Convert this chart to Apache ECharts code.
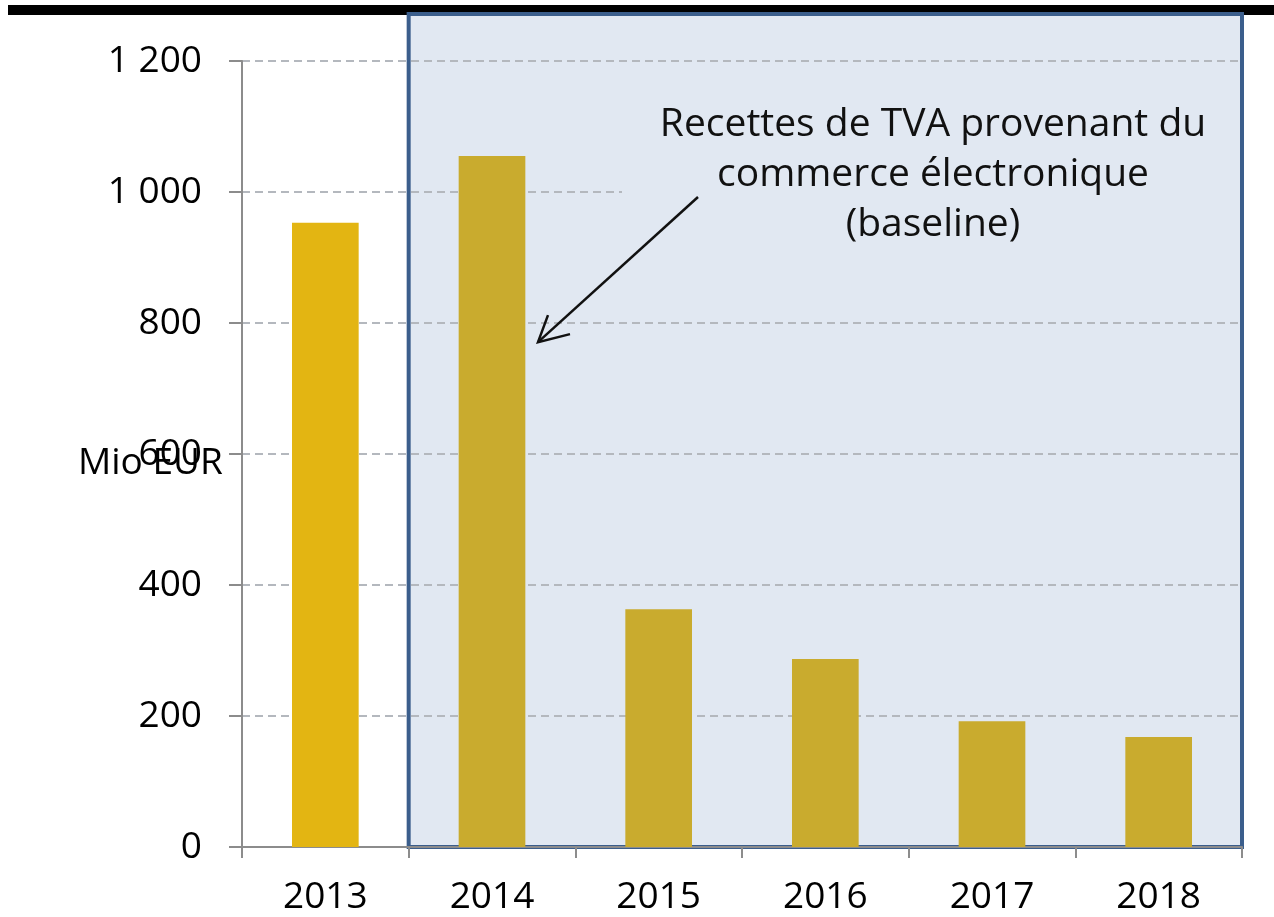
<!DOCTYPE html>
<html>
<head>
<meta charset="utf-8">
<script src="https://cdn.jsdelivr.net/npm/echarts@6/dist/echarts.min.js"></script>
<style>
  html, body { margin: 0; padding: 0; background: #fff; }
  #chartsDiv { width: 1274px; height: 917px; }
</style>
</head>
<body>
<div id="chartsDiv"></div>
<script>
// années
const years = ["2013", "2014", "2015", "2016", "2017", "2018"];
// recettes de TVA, Mio EUR
const values = [953, 1055, 363, 287, 192, 168];
const yTicks = [0, 200, 400, 600, 800, 1000, 1200];

const font = "'Open Sans', 'Noto Sans', sans-serif";
const boxFill = "#e1e8f2";

const chart = echarts.init(document.getElementById("chartsDiv"));

const option = {
  animation: false,
  grid: { left: 242, right: 32, top: 61, bottom: 70 },
  xAxis: {
    type: "category",
    data: years,
    axisLine: { lineStyle: { color: "#8c8c8c", width: 2 } },
    axisTick: { show: true, length: 11, lineStyle: { color: "#8c8c8c", width: 2 } },
    axisLabel: { color: "#000", fontSize: 37, fontFamily: font, margin: 32 },
  },
  yAxis: {
    type: "value",
    min: yTicks[0],
    max: yTicks[yTicks.length - 1],
    interval: 200,
    axisLine: { show: true, lineStyle: { color: "#8c8c8c", width: 2 } },
    axisTick: { show: true, length: 13, lineStyle: { color: "#8c8c8c", width: 2 } },
    axisLabel: {
      color: "#000",
      fontSize: 37,
      fontFamily: font,
      margin: 40,
      formatter: (v) => String(v).replace(/\B(?=(\d{3})+(?!\d))/g, " "),
    },
    splitLine: { lineStyle: { color: "#b4b8be", type: [8, 5], width: 2 } },
  },
  series: [
    {
      type: "bar",
      barWidth: "40%",
      data: values.map((v, i) => ({
        value: v,
        itemStyle: { color: i === 0 ? "#e3b512" : "#c9ab2e" },
      })),
      z: 2,
    },
  ],
};
chart.setOption(option);

// cadre bleu 2014-2018 + annotation, positionnés via les axes
const xLeft = (chart.convertToPixel({ xAxisIndex: 0 }, years[0]) + chart.convertToPixel({ xAxisIndex: 0 }, years[1])) / 2;
const xRight = chart.convertToPixel({ xAxisIndex: 0 }, years[5]) + (xLeft - chart.convertToPixel({ xAxisIndex: 0 }, years[0]));
const yBase = chart.convertToPixel({ yAxisIndex: 0 }, 0);
const p1000 = chart.convertToPixel({ yAxisIndex: 0 }, 1000);
const pArrow = chart.convertToPixel({ xAxisIndex: 0, yAxisIndex: 0 }, [years[1], 780]);

chart.setOption({
  graphic: [
    {
      type: "rect",
      z: -1,
      shape: { x: 8, y: 5, width: 1266, height: 10 },
      style: { fill: "#000" },
    },
    {
      type: "rect",
      z: -1,
      shape: { x: xLeft, y: 14, width: xRight - xLeft, height: yBase - 14 },
      style: { fill: boxFill, stroke: "#3b5e8c", lineWidth: 4 },
    },
    {
      type: "rect",
      z: 1,
      shape: { x: 622, y: p1000 - 90, width: xRight - 624, height: 150 },
      style: { fill: boxFill },
    },
    {
      type: "text",
      z: 3,
      x: 933,
      y: 100,
      style: {
        text: "Recettes de TVA provenant du\ncommerce électronique\n(baseline)",
        fill: "#111",
        font: "39px " + font,
        align: "center",
        lineHeight: 50,
      },
    },
    {
      type: "line",
      z: 3,
      shape: { x1: 698, y1: 197, x2: pArrow[0] + 46, y2: pArrow[1] + 6 },
      style: { stroke: "#111", lineWidth: 2.5 },
    },
    {
      type: "polyline",
      z: 3,
      shape: { points: [[pArrow[0] + 56, pArrow[1] - 21], [pArrow[0] + 46, pArrow[1] + 6], [pArrow[0] + 78, pArrow[1] - 2]] },
      style: { stroke: "#111", lineWidth: 2.5, fill: null },
    },
    {
      type: "text",
      z: 3,
      x: 78,
      y: 445,
      style: { text: "Mio EUR", fill: "#000", font: "37px " + font },
    },
  ],
});
</script>
</body>
</html>
